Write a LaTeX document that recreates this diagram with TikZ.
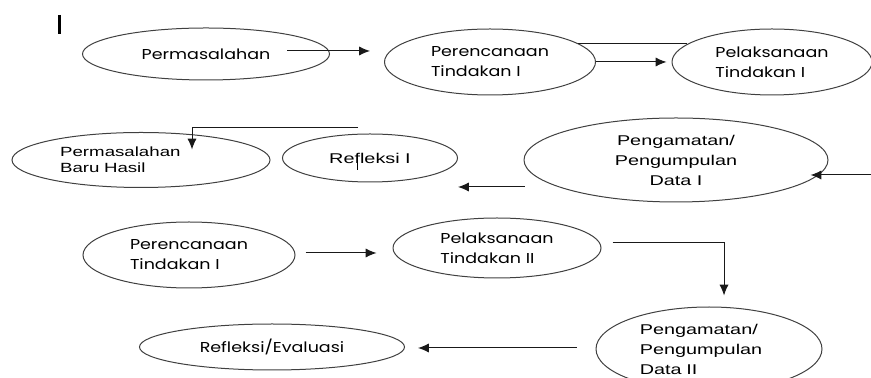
\documentclass[tikz,border=0pt]{standalone}
\usepackage{fontspec}
\setmainfont{Liberation Sans}[FakeStretch=1.4]
\newfontfamily\geofont{Poppins}[FakeStretch=1.22]
\usetikzlibrary{shapes,arrows.meta,positioning,calc}
\tikzstyle{oval} = [ellipse, draw=black!75, line width=0.6pt, inner sep=0pt, font=\fontsize{8.5}{12}\selectfont]
\tikzstyle{geo} = [font=\geofont\fontsize{8.6}{12}\selectfont]
\tikzstyle{link} = [draw=black!90, line width=0.6pt]

\begin{document}
\begin{tikzpicture}[x=0.6pt, y=-0.6pt, >={Latex[length=6.5pt,width=5.5pt]}]
    \useasboundingbox (0,0) rectangle (871,378);
    % siklus I
    \node[oval, geo, minimum width=148.2pt, minimum height=31.2pt] (perm1) at (206,54) {Permasalahan};
    \node[oval, geo, minimum width=126.6pt, minimum height=39.6pt, align=left] (renc1) at (490,62) {Perencanaan\\Tindakan I};
    \node[oval, geo, minimum width=120pt, minimum height=39.6pt, align=left] (laks1) at (772,62) {Pelaksanaan\\Tindakan I};
    \node[oval, minimum width=154.8pt, minimum height=33pt, align=left, text width=97pt, font=\fontsize{8}{9.6}\selectfont] (baru) at (141,160) {Permasalahan\\Baru Hasil};
    \node[oval, minimum width=105pt, minimum height=28.8pt] (refl1) at (370,158) {Refleksi I};
    \node[oval, minimum width=182.4pt, minimum height=50.4pt, align=center] (amat1) at (676,160) {Pengamatan/\\Pengumpulan\\Data I};
    % siklus II
    \node[oval, geo, minimum width=127.2pt, minimum height=39.6pt, align=left] (renc2) at (189,255) {Perencanaan\\Tindakan I};
    \node[oval, geo, minimum width=124.8pt, minimum height=36pt, align=left] (laks2) at (497,248) {Pelaksanaan\\Tindakan II};
    \node[oval, minimum width=135.6pt, minimum height=50.4pt, align=left, text width=83pt] (amat2) at (709,349) {Pengamatan/\\Pengumpulan\\Data II};
    \node[oval, geo, minimum width=159pt, minimum height=27.6pt] (evalu) at (272,347) {Refleksi/Evaluasi};

    \coordinate (edgeR) at (871,175);

    % tanda kursor
    \draw[line width=1.8pt] (59,15) -- (59,34);
    \draw[line width=0.5pt] (357,153) -- (357,170);

    \draw[link, ->] ([shift={(-43,-3)}]perm1.east) -- ++(83,0);
    \draw[link] (renc1.12) -- (renc1.12 -| laks1.168);
    \draw[link, ->, shorten >=3pt] (renc1.east) -- (laks1.west);
    \draw[link, ->] ([shift={(-12,-6)}]refl1.north) -| ([shift={(51,17.5)}]baru.north);
    \draw[link, ->] ($(amat1.west)+(1,27)$) -- ($(amat1.west -| refl1.east)+(0,27)$);
    \draw[link, ->] (edgeR) -- ([shift={(-18,15)}]amat1.east);
    \draw[link, ->] ([shift={(10,-2)}]renc2.east) -- ([shift={(-16,5)}]laks2.west);
    \draw[link, ->] ([shift={(11,-5)}]laks2.east) -| ([shift={(15,-11)}]amat2.north);
    \draw[link, ->] ($(amat2.west)+(-19,-1)$) -- ($(amat2.west -| evalu.east)+(13,-1)$);
\end{tikzpicture}
\end{document}
